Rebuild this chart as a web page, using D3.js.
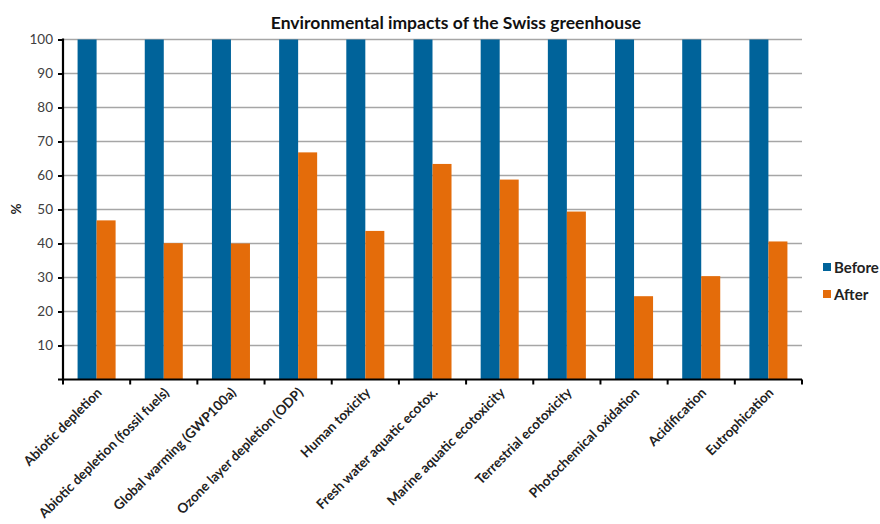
<!DOCTYPE html>
<html>
<head>
<meta charset="utf-8">
<script src="https://cdn.jsdelivr.net/npm/d3@7"></script>
<style>
  body { margin: 0; background: #fff; }
  svg { font-family: Lato, "Open Sans", sans-serif; }
</style>
</head>
<body>
<svg id="chart" width="880" height="524"></svg>
<script>
const categories = [
    "Abiotic depletion",
    "Abiotic depletion (fossil fuels)",
    "Global warming (GWP100a)",
    "Ozone layer depletion (ODP)",
    "Human toxicity",
    "Fresh water aquatic ecotox.",
    "Marine aquatic ecotoxicity",
    "Terrestrial ecotoxicity",
    "Photochemical oxidation",
    "Acidification",
    "Eutrophication"
];
const seriesNames = ["Before", "After"];
const beforeValues = [100, 100, 100, 100, 100, 100, 100, 100, 100, 100, 100];
const afterValues = [46.8, 40.1, 40.0, 66.8, 43.7, 63.4, 58.8, 49.4, 24.5, 30.4, 40.6];
const yTicks = [10, 20, 30, 40, 50, 60, 70, 80, 90, 100];
const colors = ["#00639a", "#e46c0a"];

const svg = d3.select("svg#chart");

const area = { left: 63, right: 802, top: 39.5, bottom: 379.5 };

const data = categories.map((c, i) => ({
    label: c,
    values: [beforeValues[i], afterValues[i]]
}));

// шкалы
const scX = d3.scaleBand()
    .domain(categories)
    .range([area.left, area.right])
    .paddingInner(0.434)
    .paddingOuter(0.217);
const scSeries = d3.scaleBand()
    .domain(seriesNames)
    .range([0, scX.bandwidth()]);
const scY = d3.scaleLinear()
    .domain([0, 100])
    .range([area.bottom, area.top]);

// сетка
svg.append("g")
    .selectAll("line")
    .data(yTicks)
    .enter()
    .append("line")
    .attr("x1", area.left)
    .attr("x2", area.right)
    .attr("y1", d => scY(d))
    .attr("y2", d => scY(d))
    .style("stroke", "#a6a6a6")
    .style("stroke-width", 1.3);

// столбцы
const groups = svg.append("g")
    .selectAll("g")
    .data(data)
    .enter()
    .append("g")
    .attr("transform", d => `translate(${scX(d.label)},0)`);

groups.selectAll("rect")
    .data(d => d.values.map((v, k) => ({ name: seriesNames[k], value: v, k: k })))
    .enter()
    .append("rect")
    .attr("x", d => scSeries(d.name))
    .attr("y", d => scY(d.value))
    .attr("width", scSeries.bandwidth())
    .attr("height", d => scY(0) - scY(d.value))
    .style("fill", d => colors[d.k]);

// ось Y
const axisY = d3.axisLeft(scY)
    .tickValues(yTicks)
    .tickSize(5)
    .tickPadding(5);
const gy = svg.append("g")
    .attr("transform", `translate(${area.left},0)`)
    .call(axisY);
gy.select(".domain").remove();
gy.append("line")
    .attr("x1", 0).attr("x2", 0)
    .attr("y1", area.top - 1).attr("y2", area.bottom + 1)
    .style("stroke", "#000").style("stroke-width", 2.2);
gy.selectAll(".tick line").style("stroke", "#000").style("stroke-width", 2);
gy.selectAll(".tick text")
    .style("font-size", "13.5px")
    .style("font-family", "Lato, sans-serif")
    .style("fill", "#404040");

// ось X
const catStep = (area.right - area.left) / categories.length;
const boundaries = d3.range(categories.length + 1).map(i => area.left + i * catStep);
const gx = svg.append("g");
gx.append("line")
    .attr("x1", area.left - 5).attr("x2", area.right)
    .attr("y1", area.bottom).attr("y2", area.bottom)
    .style("stroke", "#000").style("stroke-width", 2.2);
gx.selectAll(".xtick")
    .data(boundaries)
    .enter()
    .append("line")
    .attr("x1", d => d).attr("x2", d => d)
    .attr("y1", area.bottom).attr("y2", area.bottom + 5)
    .style("stroke", "#000").style("stroke-width", 2);
gx.selectAll(".xlabel")
    .data(categories)
    .enter()
    .append("text")
    .attr("transform", d => `translate(${scX(d) + scX.bandwidth() / 2 + 6},${area.bottom + 14}) rotate(-45)`)
    .style("text-anchor", "end")
    .style("font-size", "13.5px")
    .style("font-weight", "bold")
    .style("fill", "#222")
    .text(d => d);

// подписи
svg.append("text")
    .attr("x", 456)
    .attr("y", 29)
    .style("text-anchor", "middle")
    .style("font-size", "17.5px")
    .style("font-weight", "bold")
    .style("fill", "#111")
    .text("Environmental impacts of the Swiss greenhouse");

svg.append("text")
    .attr("transform", "translate(21,209) rotate(-90)")
    .style("text-anchor", "middle")
    .style("font-size", "13.5px")
    .style("font-weight", "bold")
    .style("fill", "#222")
    .text("%");

// легенда
const legend = svg.append("g")
    .selectAll("g")
    .data(seriesNames)
    .enter()
    .append("g")
    .attr("transform", (d, i) => `translate(823,${268 + i * 27})`);
legend.append("rect")
    .attr("x", 0).attr("y", -5)
    .attr("width", 8).attr("height", 8)
    .style("fill", (d, i) => colors[i]);
legend.append("text")
    .attr("x", 11).attr("y", 5)
    .style("font-size", "15px")
    .style("font-weight", "bold")
    .style("fill", "#222")
    .text(d => d);
</script>
</body>
</html>
